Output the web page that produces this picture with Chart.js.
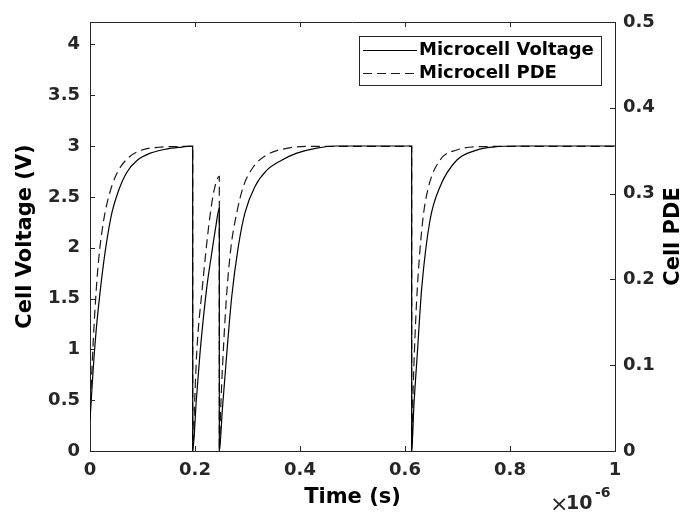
<!DOCTYPE html>
<html lang="en">
<head>
<meta charset="UTF-8">
<title>Microcell Voltage / PDE</title>
<style>
  html, body { margin: 0; padding: 0; background: #fff; }
</style>
</head>
<body>
<canvas id="myChart" width="689" height="512"></canvas>
<script src="https://cdn.jsdelivr.net/npm/chart.js@4.4.1/dist/chart.umd.min.js"></script>
<script>
// time axis is in units of 1e-6 s
var timeV = [0, 0.006, 0.012, 0.02, 0.03, 0.042, 0.055, 0.07, 0.09, 0.115, 0.145, 0.175, 0.1956,
             0.1956, 0.2025, 0.2095, 0.2222, 0.232, 0.24, 0.2463,
             0.2463, 0.252, 0.259, 0.27, 0.2825, 0.295, 0.314, 0.3365, 0.365, 0.394, 0.432, 0.47, 0.6127,
             0.6127, 0.617, 0.6235, 0.6318, 0.6476, 0.6667, 0.6984, 0.7365, 0.768, 0.82, 1];
var voltage = [0.3, 0.8, 1.2, 1.6, 2.0, 2.35, 2.57, 2.74, 2.86, 2.93, 2.97, 2.99, 3.0,
               0, 0.5, 0.96, 1.6, 1.95, 2.22, 2.39,
               0, 0.4, 0.86, 1.52, 2.01, 2.34, 2.6, 2.76, 2.86, 2.93, 2.98, 3.0, 3.0,
               0, 0.45, 0.96, 1.6, 2.27, 2.6, 2.86, 2.96, 2.99, 3.0, 3.0];

var timeP = [0, 0.004, 0.009, 0.016, 0.025, 0.035, 0.05, 0.07, 0.095, 0.13, 0.1956,
             0.1956, 0.1995, 0.2032, 0.2139, 0.2273, 0.2368, 0.2463,
             0.2463, 0.249, 0.2527, 0.26, 0.2686, 0.2794, 0.292, 0.311, 0.3365, 0.3747, 0.419, 0.6127,
             0.6127, 0.615, 0.6178, 0.6235, 0.6337, 0.6445, 0.6667, 0.6984, 0.743, 0.8, 1];
var pde = [0.04, 0.1, 0.16, 0.22, 0.265, 0.295, 0.322, 0.34, 0.35, 0.354, 0.355,
           0, 0.06, 0.114, 0.19, 0.268, 0.305, 0.32,
           0, 0.05, 0.102, 0.18, 0.238, 0.277, 0.308, 0.331, 0.345, 0.3528, 0.355, 0.355,
           0, 0.06, 0.114, 0.19, 0.268, 0.307, 0.339, 0.3508, 0.3547, 0.355, 0.355];

var timeTicks = [0, 0.2, 0.4, 0.6, 0.8, 1];
var voltTicks = [0, 0.5, 1, 1.5, 2, 2.5, 3, 3.5, 4];
var pdeTicks = [0, 0.1, 0.2, 0.3, 0.4, 0.5];

var axisColor = '#262626';
var fontName = "'DejaVu Sans', sans-serif";

function toPoints(xs, ys) {
    return xs.map(function (x, i) { return { x: x, y: ys[i] }; });
}

function fixTicks(values) {
    return function (scale) {
        scale.ticks = values.map(function (v) { return { value: v }; });
    };
}

// box top edge, inward tick marks, legend, axis titles and the x exponent
var decorations = {
    id: 'decorations',
    afterDatasetsDraw: function (chart) {
        var ctx = chart.ctx;
        var a = chart.chartArea;
        var sx = chart.scales.x, sl = chart.scales.y, sr = chart.scales.y1;
        var tick = 5;

        ctx.save();
        ctx.strokeStyle = axisColor;
        ctx.lineWidth = 1;
        ctx.setLineDash([]);
        ctx.beginPath();
        ctx.moveTo(a.left, a.top + 0.5);
        ctx.lineTo(a.right, a.top + 0.5);
        sx.ticks.forEach(function (t) {
            var px = Math.round(sx.getPixelForValue(t.value)) + 0.5;
            ctx.moveTo(px, a.bottom); ctx.lineTo(px, a.bottom - tick);
            ctx.moveTo(px, a.top); ctx.lineTo(px, a.top + tick);
        });
        sl.ticks.forEach(function (t) {
            var py = Math.round(sl.getPixelForValue(t.value)) + 0.5;
            ctx.moveTo(a.left, py); ctx.lineTo(a.left + tick, py);
        });
        sr.ticks.forEach(function (t) {
            var py = Math.round(sr.getPixelForValue(t.value)) + 0.5;
            ctx.moveTo(a.right, py); ctx.lineTo(a.right - tick, py);
        });
        ctx.stroke();

        // legend
        var lx = 359.5, ly = 36.5, lw = 242, lh = 49;
        ctx.fillStyle = '#fff';
        ctx.fillRect(lx, ly, lw, lh);
        ctx.strokeRect(lx, ly, lw, lh);
        ctx.font = 'bold 18px ' + fontName;
        ctx.textBaseline = 'middle';
        ctx.textAlign = 'left';
        chart.data.datasets.forEach(function (ds, i) {
            var y = 50.5 + i * 23;
            ctx.strokeStyle = ds.borderColor;
            ctx.lineWidth = ds.borderWidth;
            ctx.setLineDash(ds.borderDash || []);
            ctx.beginPath();
            ctx.moveTo(363, y);
            ctx.lineTo(417, y);
            ctx.stroke();
            ctx.fillStyle = '#000';
            ctx.fillText(ds.label, 419, y);
        });
        ctx.setLineDash([]);

        // axis titles
        ctx.fillStyle = '#000';
        ctx.font = 'bold 21px ' + fontName;
        ctx.textAlign = 'center';
        ctx.fillText('Time (s)', (a.left + a.right) / 2, 498);
        ctx.save();
        ctx.translate(26, (a.top + a.bottom) / 2);
        ctx.rotate(-Math.PI / 2);
        ctx.fillText('Cell Voltage (V)', 0, 0);
        ctx.restore();
        ctx.save();
        ctx.translate(674, (a.top + a.bottom) / 2);
        ctx.rotate(-Math.PI / 2);
        ctx.fillText('Cell PDE', 0, 0);
        ctx.restore();

        // x10^-6 exponent
        ctx.fillStyle = axisColor;
        ctx.textAlign = 'left';
        ctx.font = '22px ' + fontName;
        ctx.fillText('\u00d7', 550, 505);
        ctx.font = 'bold 19px ' + fontName;
        ctx.fillText('10', 566, 504);
        ctx.font = 'bold 14px ' + fontName;
        ctx.fillText('-6', 595, 493);
        ctx.restore();
    }
};

var ctx = document.getElementById('myChart').getContext('2d');
var myChart = new Chart(ctx, {
    type: 'line',
    data: {
        datasets: [{
            label: 'Microcell Voltage',
            data: toPoints(timeV, voltage),
            yAxisID: 'y',
            borderColor: '#000',
            borderWidth: 1.2,
            pointRadius: 0,
            cubicInterpolationMode: 'monotone'
        }, {
            label: 'Microcell PDE',
            data: toPoints(timeP, pde),
            yAxisID: 'y1',
            borderColor: '#1a1a1a',
            borderWidth: 1.2,
            borderDash: [9, 5],
            pointRadius: 0,
            cubicInterpolationMode: 'monotone'
        }]
    },
    options: {
        responsive: false,
        animation: false,
        devicePixelRatio: 1,
        layout: { padding: { top: 22, left: 0, right: 0, bottom: 0 } },
        plugins: { legend: { display: false }, tooltip: { enabled: false } },
        scales: {
            x: {
                type: 'linear',
                min: 0,
                max: 1,
                afterBuildTicks: fixTicks(timeTicks),
                afterFit: function (s) { s.height = 61; },
                grid: { drawOnChartArea: false, drawTicks: false },
                border: { color: axisColor, width: 1 },
                ticks: {
                    padding: 9,
                    color: axisColor,
                    maxRotation: 0,
                    font: { family: fontName, size: 18, weight: 'bold' },
                    callback: function (v) { return String(v); }
                }
            },
            y: {
                position: 'left',
                min: 0,
                max: 4.22,
                afterBuildTicks: fixTicks(voltTicks),
                afterFit: function (s) { s.width = 90; },
                grid: { drawOnChartArea: false, drawTicks: false },
                border: { color: axisColor, width: 1 },
                ticks: {
                    padding: 10,
                    color: axisColor,
                    font: { family: fontName, size: 18, weight: 'bold' },
                    callback: function (v) { return String(v); }
                }
            },
            y1: {
                position: 'right',
                min: 0,
                max: 0.5,
                afterBuildTicks: fixTicks(pdeTicks),
                afterFit: function (s) { s.width = 74; },
                grid: { drawOnChartArea: false, drawTicks: false },
                border: { color: axisColor, width: 1 },
                ticks: {
                    padding: 8,
                    color: axisColor,
                    font: { family: fontName, size: 18, weight: 'bold' },
                    callback: function (v) { return String(v); }
                }
            }
        }
    },
    plugins: [decorations]
});
</script>
</body>
</html>
